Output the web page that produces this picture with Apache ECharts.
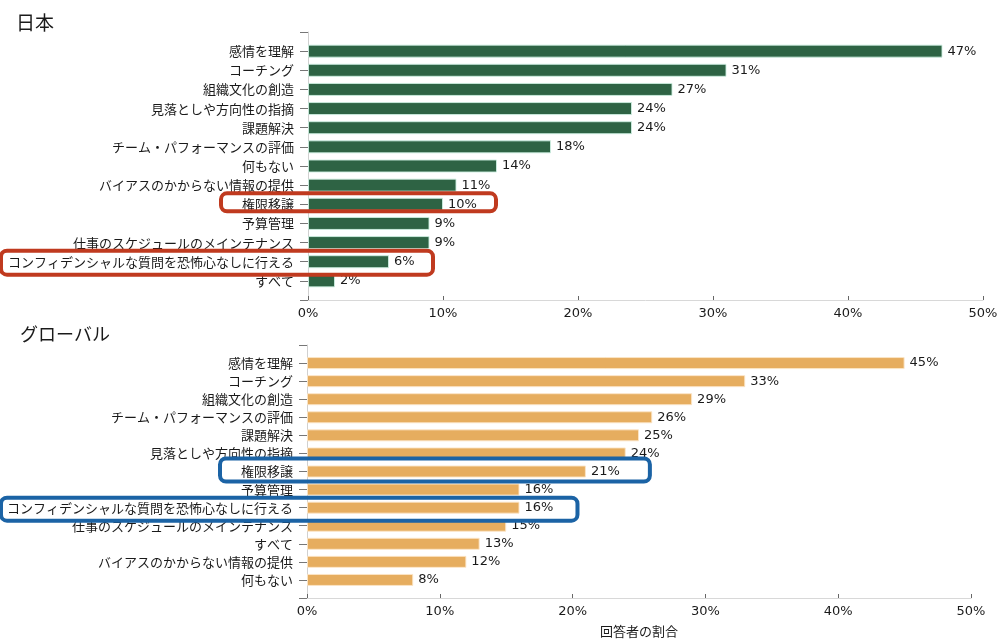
<!DOCTYPE html>
<html>
<head>
<meta charset="utf-8">
<script src="https://cdn.jsdelivr.net/npm/echarts@6/dist/echarts.min.js"></script>
<style>
html,body{margin:0;padding:0;background:#fff;}
#main{width:1003px;height:639px;}
</style>
</head>
<body>
<div id="main"></div>
<script>
// ---- data ----
const titleJapan = '日本';
const titleGlobal = 'グローバル';
const axisTitle = '回答者の割合';

const categoriesJapan = [
  '感情を理解', 'コーチング', '組織文化の創造', '見落としや方向性の指摘', '課題解決',
  'チーム・パフォーマンスの評価', '何もない', 'バイアスのかからない情報の提供', '権限移譲',
  '予算管理', '仕事のスケジュールのメインテナンス', 'コンフィデンシャルな質問を恐怖心なしに行える', 'すべて'
];
const valuesJapan = [47, 31, 27, 24, 24, 18, 14, 11, 10, 9, 9, 6, 2];

const categoriesGlobal = [
  '感情を理解', 'コーチング', '組織文化の創造', 'チーム・パフォーマンスの評価', '課題解決',
  '見落としや方向性の指摘', '権限移譲', '予算管理', 'コンフィデンシャルな質問を恐怖心なしに行える',
  '仕事のスケジュールのメインテナンス', 'すべて', 'バイアスのかからない情報の提供', '何もない'
];
const valuesGlobal = [45, 33, 29, 26, 25, 24, 21, 16, 16, 15, 13, 12, 8];

const xTickValues = [0, 10, 20, 30, 40, 50];

const highlightsJapan = ['権限移譲', 'コンフィデンシャルな質問を恐怖心なしに行える'];
const highlightsGlobal = ['権限移譲', 'コンフィデンシャルな質問を恐怖心なしに行える'];

// ---- chart ----
const chart = echarts.init(document.getElementById('main'), null, {renderer: 'canvas'});
const cjk = '"Noto Sans CJK JP", "Noto Sans", sans-serif';
const num = '"DejaVu Sans", sans-serif';

function padCats(c) { return [''].concat(c, ['']); }
function padVals(v) { return ['-'].concat(v, ['-']); }

function xAxisDef(gridIndex, withName) {
  const a = {
    type: 'value', gridIndex: gridIndex,
    min: xTickValues[0], max: xTickValues[xTickValues.length - 1],
    interval: xTickValues[1] - xTickValues[0],
    splitLine: {show: false},
    axisLine: {show: true, lineStyle: {color: '#d8d8d8', width: 1}},
    axisTick: {show: true, length: 4, inside: true, lineStyle: {color: '#666'}},
    axisLabel: {formatter: '{value}%', color: '#1a1a1a', fontSize: 13, fontFamily: num, margin: 7}
  };
  if (withName) {
    a.name = axisTitle;
    a.nameLocation = 'middle';
    a.nameGap = 27;
    a.nameTextStyle = {color: '#1a1a1a', fontSize: 13, fontFamily: cjk};
  }
  return a;
}
function yAxisDef(gridIndex, cats) {
  return {
    type: 'category', gridIndex: gridIndex, inverse: true, boundaryGap: false,
    data: padCats(cats),
    axisLine: {show: true, lineStyle: {color: '#d0d0d0', width: 1}},
    axisTick: {show: true, length: 8, lineStyle: {color: '#777'}},
    axisLabel: {color: '#1a1a1a', fontSize: 13, fontFamily: cjk, margin: 14, interval: 0}
  };
}
function barDef(idx, vals, color, border, width) {
  return {
    type: 'bar', xAxisIndex: idx, yAxisIndex: idx,
    data: padVals(vals), barWidth: width,
    itemStyle: {color: color, borderColor: border, borderWidth: 1},
    label: {show: true, position: 'right', distance: 5, formatter: '{c}%',
            color: '#1a1a1a', fontSize: 13, fontFamily: num}
  };
}

chart.setOption({
  animation: false,
  backgroundColor: '#fff',
  title: [
    {text: titleJapan, left: 11, top: 8, textStyle: {fontSize: 19, fontWeight: 'normal', color: '#1a1a1a', fontFamily: cjk}},
    {text: titleGlobal, left: 15, top: 320, textStyle: {fontSize: 18, fontWeight: 'normal', color: '#1a1a1a', fontFamily: cjk}}
  ],
  grid: [
    {left: 308, right: 20, top: 32, bottom: 339, containLabel: false},
    {left: 307, right: 32, top: 345, bottom: 41, containLabel: false}
  ],
  xAxis: [xAxisDef(0, false), xAxisDef(1, true)],
  yAxis: [yAxisDef(0, categoriesJapan), yAxisDef(1, categoriesGlobal)],
  series: [
    barDef(0, valuesJapan, '#2e6344', 'rgba(205,238,225,0.9)', 13),
    barDef(1, valuesGlobal, '#e6ad5f', 'rgba(252,230,200,0.9)', 12)
  ]
});

// ---- highlight boxes, placed from the axes ----
function boxFor(gridIndex, cats, vals, name, color, left, dTop, dBottom, pad) {
  const i = cats.indexOf(name);
  const p = chart.convertToPixel({gridIndex: gridIndex}, [vals[i], name]);
  const top = p[1] + dTop, bottom = p[1] + dBottom, right = p[0] + pad;
  const lw = 4;
  return {
    type: 'rect', z: 100, silent: true,
    shape: {x: left + lw / 2, y: top + lw / 2, width: right - left - lw, height: bottom - top - lw, r: 6},
    style: {fill: 'none', stroke: color, lineWidth: lw}
  };
}
const red = '#c03a1f', blue = '#1b63a5';
chart.setOption({
  graphic: [
    boxFor(0, categoriesJapan, valuesJapan, highlightsJapan[0], red, 219, -13, 9, 55),
    boxFor(0, categoriesJapan, valuesJapan, highlightsJapan[1], red, -1, -13, 15, 46),
    boxFor(1, categoriesGlobal, valuesGlobal, highlightsGlobal[0], blue, 218, -15, 12, 66),
    boxFor(1, categoriesGlobal, valuesGlobal, highlightsGlobal[1], blue, -1, -12, 15, 60)
  ]
});
</script>
</body>
</html>
